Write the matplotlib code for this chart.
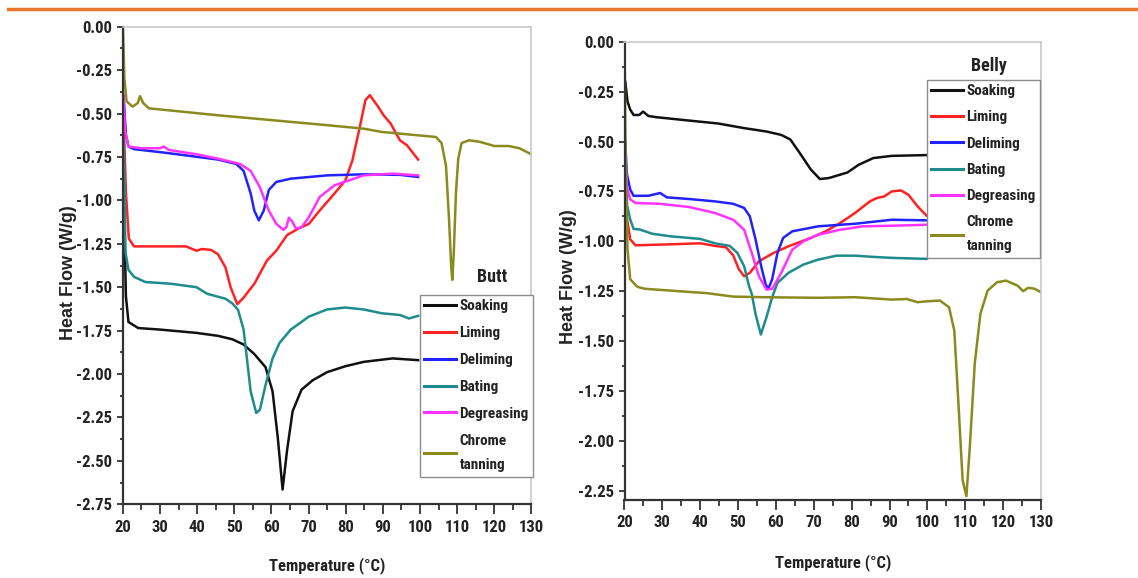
import matplotlib
matplotlib.use("Agg")
import matplotlib.pyplot as plt
from matplotlib.lines import Line2D
from matplotlib.ticker import MultipleLocator

FONT = ['Liberation Sans Narrow', 'Arial Narrow', 'Roboto Condensed', 'Fira Sans Condensed', 'Liberation Sans', 'DejaVu Sans']
plt.rcParams['font.family'] = FONT
plt.rcParams['font.weight'] = 'bold'

series_names = ["Soaking", "Liming", "Deliming", "Bating", "Degreasing", "Chrome\ntanning"]
colors = ["#111111", "#FF2222", "#2222FF", "#1E8C8C", "#FF33FF", "#8A8A1E"]

# ---------------- Butt ----------------
butt_soak_x = [20.3, 20.8, 21.5, 24.1, 30, 39.8, 45.6, 49.5, 52.5, 55.4, 58.4, 60.3, 61.7, 63.0, 64.2, 65.7, 68.1, 71.1, 75, 79.9, 84.8, 92.6, 99.5]
butt_soak_y = [-1.0, -1.55, -1.70, -1.735, -1.744, -1.763, -1.78, -1.80, -1.83, -1.885, -1.96, -2.10, -2.365, -2.665, -2.44, -2.214, -2.09, -2.036, -1.989, -1.955, -1.93, -1.91, -1.92]

butt_lime_x = [20.3, 20.8, 21.6, 23, 30, 37, 39.8, 41.2, 43.7, 45.6, 47.6, 49.0, 50.8, 52.5, 55.4, 58.8, 61.3, 64.2, 67.2, 70.1, 73, 77, 79.9, 81.8, 83.8, 85.3, 86.5, 88.7, 90.2, 92.1, 94.6, 96.5, 99.5]
butt_lime_y = [-0.60, -0.95, -1.22, -1.265, -1.265, -1.265, -1.29, -1.28, -1.285, -1.31, -1.385, -1.50, -1.598, -1.56, -1.48, -1.346, -1.29, -1.20, -1.163, -1.135, -1.058, -0.96, -0.885, -0.77, -0.577, -0.423, -0.394, -0.46, -0.51, -0.558, -0.654, -0.683, -0.765]

butt_delim_x = [20.2, 20.8, 21.5, 23, 31.9, 45.6, 50.5, 52.5, 54.4, 55.4, 56.6, 57.9, 59.3, 61.3, 65.2, 75, 84.8, 94.6, 99.5]
butt_delim_y = [-0.40, -0.62, -0.69, -0.705, -0.727, -0.765, -0.79, -0.83, -0.96, -1.06, -1.115, -1.06, -0.94, -0.894, -0.875, -0.856, -0.85, -0.853, -0.865]

butt_bate_x = [20.2, 20.7, 21.5, 23, 26, 32.9, 39.8, 42.7, 47.6, 49.5, 51, 52.5, 53.5, 54.4, 55.9, 56.9, 58.4, 60.3, 62.2, 65.2, 70.1, 75, 79.9, 84.8, 89.7, 94.6, 97, 99.5]
butt_bate_y = [-0.65, -1.30, -1.40, -1.44, -1.47, -1.48, -1.50, -1.538, -1.566, -1.594, -1.63, -1.744, -1.93, -2.10, -2.224, -2.205, -2.064, -1.91, -1.82, -1.744, -1.669, -1.628, -1.617, -1.628, -1.65, -1.66, -1.68, -1.665]

butt_degr_x = [20.1, 20.6, 21.5, 25, 30, 31, 32.4, 40, 45.6, 51.5, 54.4, 56.9, 59.3, 61.3, 63.2, 64.0, 64.7, 65.7, 66.6, 68.1, 70.1, 73, 77, 80.9, 84.8, 92.6, 99.5]
butt_degr_y = [-0.38, -0.60, -0.69, -0.70, -0.70, -0.69, -0.71, -0.735, -0.76, -0.79, -0.83, -0.925, -1.06, -1.135, -1.17, -1.155, -1.10, -1.125, -1.163, -1.155, -1.096, -0.98, -0.913, -0.885, -0.856, -0.846, -0.856]

butt_chrome_x = [20.0, 20.4, 21.0, 22.6, 24.0, 24.6, 25.5, 27, 45.6, 75, 84.8, 89.7, 104.3, 105.8, 107.0, 107.8, 108.4, 108.7, 109.1, 109.7, 110.3, 111.2, 113.2, 116.1, 120, 123.9, 126.8, 130]
butt_chrome_y = [0.0, -0.30, -0.43, -0.46, -0.44, -0.40, -0.44, -0.47, -0.51, -0.567, -0.587, -0.606, -0.635, -0.67, -0.80, -1.10, -1.38, -1.458, -1.30, -0.95, -0.76, -0.67, -0.654, -0.663, -0.687, -0.687, -0.70, -0.735]

# ---------------- Belly ----------------
belly_soak_x = [20.2, 20.8, 21.5, 22.4, 23.9, 24.9, 26.3, 28.3, 37, 44.8, 51.6, 57.5, 61.4, 63.8, 66.3, 69.2, 71.6, 74, 78.9, 81.8, 85.7, 90.6, 99.8]
belly_soak_y = [-0.20, -0.30, -0.34, -0.367, -0.367, -0.35, -0.372, -0.378, -0.395, -0.41, -0.433, -0.45, -0.467, -0.49, -0.558, -0.64, -0.688, -0.683, -0.655, -0.617, -0.583, -0.572, -0.568]

belly_lime_x = [20.2, 20.6, 21.5, 22.9, 32.2, 40, 43.9, 46.8, 48.7, 50.2, 51.6, 53.1, 55.5, 59.4, 63.3, 69.2, 73.1, 77, 80.9, 84.8, 86.7, 88.6, 90.6, 93, 95, 97.4, 99.8]
belly_lime_y = [-0.60, -0.875, -0.99, -1.02, -1.015, -1.01, -1.023, -1.03, -1.07, -1.14, -1.175, -1.158, -1.10, -1.058, -1.025, -0.983, -0.95, -0.908, -0.858, -0.80, -0.783, -0.775, -0.75, -0.745, -0.767, -0.825, -0.872]

belly_delim_x = [20.2, 20.6, 21.5, 22.4, 26.3, 28.3, 29.4, 31.2, 37, 43.9, 48.7, 51.6, 53.1, 54.6, 56.1, 57.3, 58.0, 59.0, 60.4, 61.9, 64.3, 71.1, 80.9, 90.6, 99.8]
belly_delim_y = [-0.50, -0.66, -0.74, -0.772, -0.772, -0.763, -0.758, -0.78, -0.788, -0.80, -0.812, -0.833, -0.875, -0.99, -1.125, -1.217, -1.238, -1.19, -1.058, -0.983, -0.95, -0.925, -0.912, -0.892, -0.895]

belly_bate_x = [20.2, 20.7, 21.5, 22.4, 23.9, 27.3, 32.2, 40, 43.9, 47.8, 49.8, 51.6, 52.9, 53.6, 54.6, 56.0, 57.5, 59.0, 60.4, 63.3, 67.2, 71.1, 76, 80.9, 85.7, 90.6, 99.8]
belly_bate_y = [-0.60, -0.82, -0.89, -0.938, -0.94, -0.962, -0.975, -0.988, -1.01, -1.023, -1.058, -1.125, -1.225, -1.263, -1.363, -1.467, -1.38, -1.28, -1.208, -1.158, -1.117, -1.092, -1.072, -1.072, -1.078, -1.083, -1.088]

belly_degr_x = [20.2, 20.6, 21.5, 22.9, 29.2, 37, 43.9, 48.7, 51.6, 53.6, 55.5, 57.5, 59.0, 61.4, 64.3, 67.3, 71.1, 77, 82.9, 90.6, 99.8]
belly_degr_y = [-0.55, -0.725, -0.79, -0.808, -0.812, -0.828, -0.858, -0.892, -0.942, -1.058, -1.175, -1.242, -1.238, -1.158, -1.042, -1.0, -0.967, -0.942, -0.925, -0.922, -0.917]

belly_chrome_x = [20.0, 20.3, 20.8, 21.5, 23.4, 25.4, 32.2, 41.9, 48.7, 56.5, 71.1, 80.9, 90.6, 94.5, 97.4, 100.3, 103.3, 105.7, 107.1, 108.1, 109.3, 110.3, 111.2, 112.5, 114, 115.9, 118.4, 120.8, 123.8, 125.3, 126.6, 128.2, 130]
belly_chrome_y = [0.0, -0.60, -1.04, -1.19, -1.228, -1.238, -1.247, -1.26, -1.277, -1.28, -1.283, -1.28, -1.292, -1.289, -1.305, -1.30, -1.297, -1.33, -1.447, -1.78, -2.197, -2.277, -2.03, -1.613, -1.363, -1.247, -1.205, -1.197, -1.222, -1.25, -1.233, -1.237, -1.255]

butt_x = [butt_soak_x, butt_lime_x, butt_delim_x, butt_bate_x, butt_degr_x, butt_chrome_x]
butt_y = [butt_soak_y, butt_lime_y, butt_delim_y, butt_bate_y, butt_degr_y, butt_chrome_y]
belly_x = [belly_soak_x, belly_lime_x, belly_delim_x, belly_bate_x, belly_degr_x, belly_chrome_x]
belly_y = [belly_soak_y, belly_lime_y, belly_delim_y, belly_bate_y, belly_degr_y, belly_chrome_y]

xticks = [20, 30, 40, 50, 60, 70, 80, 90, 100, 110, 120, 130]
butt_yticks = [0.0, -0.25, -0.5, -0.75, -1.0, -1.25, -1.5, -1.75, -2.0, -2.25, -2.5, -2.75]
belly_yticks = [0.0, -0.25, -0.5, -0.75, -1.0, -1.25, -1.5, -1.75, -2.0, -2.25]

W, H = 1138, 578
fig = plt.figure(figsize=(W / 100, H / 100), dpi=100)
fig.patch.set_facecolor('white')

# orange rule at top
fig.add_artist(Line2D([8 / W, 1.0], [1 - 9 / H, 1 - 9 / H], color="#E8782F", lw=2.5,
                      transform=fig.transFigure))

ax1 = fig.add_axes([122.9 / W, 1 - 504.3 / H, (531.4 - 122.9) / W, (504.3 - 26.7) / H])
ax2 = fig.add_axes([624.5 / W, 1 - 500 / H, (1041 - 624.5) / W, (500 - 41.7) / H])


def style(ax, ylim, yticks, xlab_y, ylab_x, ylab_y):
    ax.set_xlim(20, 130)
    ax.set_ylim(*ylim)
    ax.set_xticks(xticks)
    ax.set_yticks(yticks)
    ax.set_yticklabels([f"{v:.2f}" for v in yticks])
    ax.xaxis.set_minor_locator(MultipleLocator(5))
    ax.yaxis.set_minor_locator(MultipleLocator(0.125))
    ax.tick_params(which='both', direction='out', width=1.3, colors='#333333')
    ax.tick_params(axis='x', which='major', length=7, pad=4)
    ax.tick_params(axis='x', which='minor', length=4)
    ax.tick_params(axis='y', which='major', length=4.3, pad=3.5)
    ax.tick_params(axis='y', which='minor', length=2.4)
    ax.tick_params(which='major', labelsize=12, labelcolor='#222222')
    for lab in ax.get_xticklabels() + ax.get_yticklabels():
        lab.set_fontweight('bold')
    for s in ['left', 'bottom']:
        ax.spines[s].set_color('#333333')
        ax.spines[s].set_linewidth(1.6)
    for s in ['top', 'right']:
        ax.spines[s].set_color('#C8C8C8')
        ax.spines[s].set_linewidth(1.2)
    ax.set_xlabel("Temperature (°C)", fontsize=12, fontweight='bold', color='#222222')
    ax.xaxis.set_label_coords(0.5, xlab_y)
    ax.set_ylabel("Heat Flow (W/g)", fontsize=13, fontweight='bold', color='#222222',
                  family=['Liberation Sans', 'DejaVu Sans'])
    ax.yaxis.set_label_coords(ylab_x, ylab_y)


style(ax1, (-2.75, 0.0), butt_yticks, -0.11, -0.113, 0.486)
style(ax2, (-2.296, 0.0), belly_yticks, -0.118, -0.114, 0.488)

for xs, ys, c, n in zip(butt_x, butt_y, colors, series_names):
    ax1.plot(xs, ys, color=c, lw=1.8, label=n)
for xs, ys, c, n in zip(belly_x, belly_y, colors, series_names):
    ax2.plot(xs, ys, color=c, lw=1.8, label=n)


def add_legend(ax, anchor, lspace, linesp):
    handles = [Line2D([0], [0], color=c, lw=2.2) for c in colors]
    leg = ax.legend(handles, series_names, loc='lower left', bbox_to_anchor=anchor,
                    bbox_transform=ax.transAxes, frameon=True, fancybox=False,
                    handlelength=2.05, handletextpad=0.25,
                    labelspacing=lspace, borderpad=0.3, borderaxespad=0.0,
                    prop={'weight': 'bold', 'size': 11, 'family': FONT})
    leg.get_frame().set_edgecolor('#8C8C8C')
    leg.get_frame().set_linewidth(1.0)
    leg.get_frame().set_alpha(1.0)
    for t in leg.get_texts():
        t.set_color('#222222')
        t.set_linespacing(linesp)
    return leg


add_legend(ax1, (0.727, 0.058), 0.84, 1.95)
add_legend(ax2, (0.7256, 0.528), 0.8, 1.92)

ax1.text(0.905, 0.476, "Butt", transform=ax1.transAxes, ha='center', va='center',
         fontsize=13, fontweight='bold', color='#222222')
ax2.text(0.876, 0.947, "Belly", transform=ax2.transAxes, ha='center', va='center',
         fontsize=13, fontweight='bold', color='#222222')

fig.savefig("out.png", dpi=100, facecolor='white')
